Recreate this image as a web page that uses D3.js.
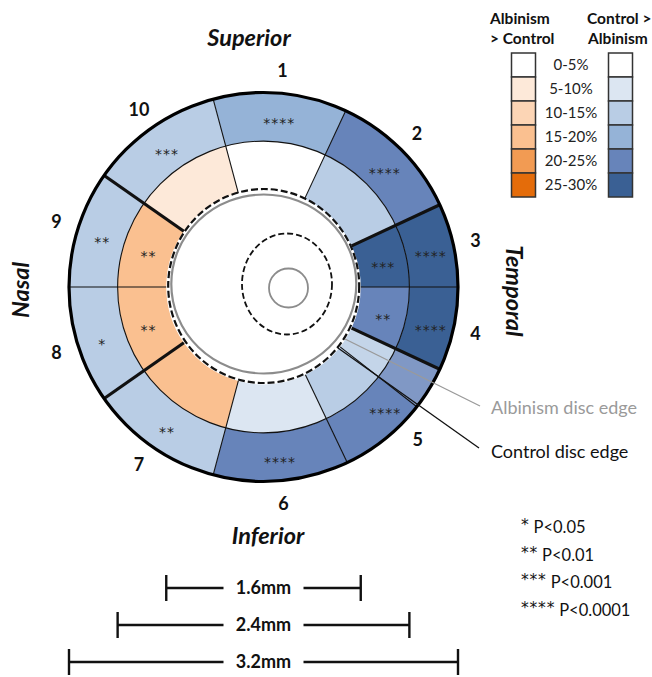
<!DOCTYPE html>
<html>
<head>
<meta charset="utf-8">
<script src="https://cdn.jsdelivr.net/npm/d3@7"></script>
<style>
  html, body { margin: 0; padding: 0; background: #ffffff; }
  svg { display: block; font-family: Lato, "Open Sans", "Liberation Sans", sans-serif; }
</style>
</head>
<body>
<svg id="chart" width="652" height="677"></svg>
<script>
// ---- Sector layout (degrees, clockwise from superior) ----
const sectorIds      = ["1", "2", "3", "4", "5", "6", "7", "8", "9", "10"];
const sectorStartDeg = [-15, 25, 65, 90, 115, 154.5, 195, 235, 270, 305];
const sectorEndDeg   = [25, 65, 90, 115, 154.5, 195, 235, 270, 305, 345];

// Signed thickness difference (%): positive = Control > Albinism, negative = Albinism > Control
const outerDiff  = [17.5, 22.5, 27.5, 27.5, 22.5, 22.5, 12.5, 12.5, 12.5, 12.5];
const innerDiff  = [2.5, 12.5, 27.5, 22.5, 12.5, 7.5, -17.5, -17.5, -17.5, -7.5];
const outerStars = ["****", "****", "****", "****", "****", "****", "**", "*", "**", "***"];
const innerStars = ["", "", "***", "**", "", "", "", "**", "**", ""];

// Heavy boundaries between the four regions
const regionBreakDeg = [65, 115, 235, 305];
// Partially overlapping wedge at the start of sector 5
const overlapDeg = [115, 128];

// ---- Legend ----
const binLabels    = ["0-5%", "5-10%", "10-15%", "15-20%", "20-25%", "25-30%"];
const binEdges     = [5, 10, 15, 20, 25];
const orangeShades = ["#ffffff", "#fde9d9", "#fcd5b5", "#fac090", "#f29b53", "#e46c0a"];
const blueShades   = ["#ffffff", "#dce6f2", "#b9cde5", "#95b3d7", "#6784ba", "#3a6094"];
const pStars       = ["*", "**", "***", "****"];
const pThresholds  = ["P<0.05", "P<0.01", "P<0.001", "P<0.0001"];

// ---- Geometry in millimetres ----
const ringRadiiMm = [0.8, 1.2, 1.6];
const scaleBarsMm = [1.6, 2.4, 3.2];

const svg = d3.select("#chart");
const cx = 263.5, cy = 287;

const mm = d3.scaleLinear().domain([0, 1.6]).range([0, 194.5]);
const rIn = mm(ringRadiiMm[0]), rMid = mm(ringRadiiMm[1]), rOut = mm(ringRadiiMm[2]);
const rad = d3.scaleLinear().domain([0, 360]).range([0, 2 * Math.PI]);

const blueScale   = d3.scaleThreshold().domain(binEdges).range(blueShades);
const orangeScale = d3.scaleThreshold().domain(binEdges).range(orangeShades);
const fillFor = v => (v >= 0 ? blueScale(v) : orangeScale(-v));

const sectors = sectorIds.map((id, i) => ({
  id, start: sectorStartDeg[i], end: sectorEndDeg[i],
  outer: outerDiff[i], inner: innerDiff[i],
  outerStars: outerStars[i], innerStars: innerStars[i]
}));

const g = svg.append("g").attr("transform", `translate(${cx},${cy})`);

const arcOuter = d3.arc().innerRadius(rMid).outerRadius(rOut)
  .startAngle(d => rad(d.start)).endAngle(d => rad(d.end));
const arcInner = d3.arc().innerRadius(rIn).outerRadius(rMid)
  .startAngle(d => rad(d.start)).endAngle(d => rad(d.end));

// Ring fills
g.selectAll("path.outer").data(sectors).join("path")
  .attr("class", "outer").attr("d", arcOuter).attr("fill", d => fillFor(d.outer));
g.selectAll("path.inner").data(sectors).join("path")
  .attr("class", "inner").attr("d", arcInner).attr("fill", d => fillFor(d.inner));

// Overlap wedge: lighter tint of sector 5
g.append("path")
  .attr("d", d3.arc().innerRadius(rIn).outerRadius(rOut)
    .startAngle(rad(overlapDeg[0])).endAngle(rad(overlapDeg[1]))())
  .attr("fill", "#ffffff").attr("fill-opacity", 0.17);

// Radial boundaries
const pt = (deg, r) => [r * Math.sin(rad(deg)), -r * Math.cos(rad(deg))];
const boundaries = sectorStartDeg.map(a => ({ a, heavy: regionBreakDeg.includes(a) }))
  .concat([{ a: overlapDeg[1], heavy: false }]);
g.selectAll("line.bound").data(boundaries).join("line")
  .attr("class", "bound")
  .attr("x1", d => pt(d.a, rIn)[0]).attr("y1", d => pt(d.a, rIn)[1])
  .attr("x2", d => pt(d.a, rOut)[0]).attr("y2", d => pt(d.a, rOut)[1])
  .attr("stroke", "#111").attr("stroke-width", d => d.heavy ? 3.2 : 1.1);

// Ring circles
g.append("circle").attr("r", rMid).attr("fill", "none").attr("stroke", "#111").attr("stroke-width", 1.1);
g.append("circle").attr("r", rOut).attr("fill", "none").attr("stroke", "#000").attr("stroke-width", 3.2);

// Central disc
g.append("circle").attr("r", rIn - 0.5).attr("fill", "#ffffff");

// Control disc edge (dashed) and albinism disc edge (grey)
g.append("ellipse").attr("cx", 0.2).attr("cy", -1).attr("rx", 95.5).attr("ry", 97)
  .attr("fill", "none").attr("stroke", "#111").attr("stroke-width", 2.2).attr("stroke-dasharray", "7,3");
g.append("ellipse").attr("cx", 0.3).attr("cy", -3).attr("rx", 92.5).attr("ry", 89.5)
  .attr("fill", "none").attr("stroke", "#8c8c8c").attr("stroke-width", 2.2);
g.append("ellipse").attr("cx", 23.5).attr("cy", -3).attr("rx", 45).attr("ry", 50.5)
  .attr("fill", "none").attr("stroke", "#111").attr("stroke-width", 1.8).attr("stroke-dasharray", "6,3");
g.append("circle").attr("cx", 25).attr("cy", 1).attr("r", 19.5)
  .attr("fill", "none").attr("stroke", "#8c8c8c").attr("stroke-width", 1.8);

// Significance stars
const starFont = "'DejaVu Sans', sans-serif";
const starText = (sel, ringR) => sel
  .attr("x", d => pt((d.start + d.end) / 2, ringR)[0] + 1)
  .attr("y", d => pt((d.start + d.end) / 2, ringR)[1] + 11)
  .attr("text-anchor", "middle")
  .attr("font-family", starFont)
  .attr("font-size", 14).attr("letter-spacing", 1).attr("fill", "#222");
g.selectAll("text.so").data(sectors).join("text").attr("class", "so")
  .call(starText, (rMid + rOut) / 2).text(d => d.outerStars);
g.selectAll("text.si").data(sectors).join("text").attr("class", "si")
  .call(starText, (rIn + rMid) / 2).text(d => d.innerStars);

// Sector numbers
g.selectAll("text.num").data(sectors).join("text").attr("class", "num")
  .attr("x", d => pt((d.start + d.end) / 2, 217)[0])
  .attr("y", d => pt((d.start + d.end) / 2, 217)[1])
  .attr("dy", "0.36em").attr("text-anchor", "middle")
  .attr("font-size", 18).attr("font-weight", 700).attr("fill", "#111")
  .text(d => d.id);

// Region names
const regionStyle = sel => sel.attr("font-size", 23.5).attr("font-weight", 700)
  .attr("font-style", "italic").attr("text-anchor", "middle").attr("fill", "#111");
svg.append("text").attr("x", 249).attr("y", 46).call(regionStyle).text("Superior");
svg.append("text").attr("x", 268).attr("y", 544).call(regionStyle).text("Inferior");
svg.append("text").attr("transform", "translate(29,290) rotate(-90)").call(regionStyle).text("Nasal");
svg.append("text").attr("transform", "translate(506,291) rotate(90)").call(regionStyle).text("Temporal");

// Disc edge call-outs
svg.append("line").attr("x1", 345).attr("y1", 339).attr("x2", 480).attr("y2", 406)
  .attr("stroke", "#9a9a9a").attr("stroke-width", 1.3);
svg.append("line").attr("x1", 338).attr("y1", 348).attr("x2", 479).attr("y2", 448)
  .attr("stroke", "#111").attr("stroke-width", 1.3);
svg.append("text").attr("x", 491).attr("y", 414).attr("font-size", 18).attr("fill", "#9a9a9a")
  .text("Albinism disc edge");
svg.append("text").attr("x", 491).attr("y", 458).attr("font-size", 18).attr("fill", "#111")
  .text("Control disc edge");

// Colour legend
const legend = svg.append("g");
const headStyle = sel => sel.attr("font-size", 15.5).attr("font-weight", 700).attr("fill", "#111");
legend.append("text").attr("x", 490).attr("y", 24).call(headStyle).text("Albinism");
legend.append("text").attr("x", 490).attr("y", 44).call(headStyle).text("> Control");
legend.append("text").attr("x", 587).attr("y", 24).call(headStyle).text("Control >");
legend.append("text").attr("x", 588).attr("y", 44).call(headStyle).text("Albinism");

const rowY = d3.scaleBand().domain(binLabels).range([53, 197]).paddingInner(0);
legend.selectAll("rect.lo").data(binLabels).join("rect").attr("class", "lo")
  .attr("x", 511.5).attr("y", d => rowY(d)).attr("width", 24).attr("height", rowY.bandwidth())
  .attr("fill", (d, i) => orangeShades[i]).attr("stroke", "#333").attr("stroke-width", 1.5);
legend.selectAll("rect.lb").data(binLabels).join("rect").attr("class", "lb")
  .attr("x", 608.5).attr("y", d => rowY(d)).attr("width", 24).attr("height", rowY.bandwidth())
  .attr("fill", (d, i) => blueShades[i]).attr("stroke", "#333").attr("stroke-width", 1.5);
legend.selectAll("text.bl").data(binLabels).join("text").attr("class", "bl")
  .attr("x", 571).attr("y", d => rowY(d) + rowY.bandwidth() / 2).attr("dy", "0.36em")
  .attr("text-anchor", "middle").attr("font-size", 15).attr("fill", "#222").text(d => d);

// P-value key
const pKey = svg.selectAll("text.pv").data(pStars).join("text").attr("class", "pv")
  .attr("x", 521).attr("y", (d, i) => 533 + i * 27.7)
  .attr("font-size", 16.5).attr("fill", "#111");
pKey.append("tspan").attr("font-family", starFont).attr("font-size", 15.5)
  .attr("dy", -3).attr("letter-spacing", 0.8).text(d => d);
pKey.append("tspan").attr("dx", 4).attr("dy", 3).text((d, i) => pThresholds[i]);

// Scale bars
const barY = d3.scalePoint().domain(scaleBarsMm).range([588, 662]);
scaleBarsMm.forEach(v => {
  const half = mm(v / 2), y = barY(v);
  const bar = svg.append("g");
  bar.append("text").attr("x", cx).attr("y", y).attr("dy", "0.36em")
    .attr("text-anchor", "middle").attr("font-size", 18).attr("font-weight", 700).attr("fill", "#111")
    .text(`${v.toFixed(1)}mm`);
  const gap = 40;
  const segs = [[cx - half, cx - gap], [cx + gap, cx + half]];
  segs.forEach(([a, b]) => bar.append("line").attr("x1", a).attr("x2", b).attr("y1", y).attr("y2", y)
    .attr("stroke", "#111").attr("stroke-width", 2.4));
  [cx - half, cx + half].forEach(x => bar.append("line").attr("x1", x).attr("x2", x)
    .attr("y1", y - 13).attr("y2", y + 13).attr("stroke", "#111").attr("stroke-width", 2.4));
});
</script>
</body>
</html>
